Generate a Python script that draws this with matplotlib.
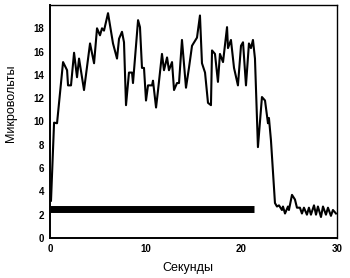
import matplotlib
matplotlib.use("Agg")
import matplotlib.pyplot as plt

plt.rcParams["font.family"] = ["Liberation Sans", "DejaVu Sans"]

# time (s) and signal (microvolts)
seconds = [
    0.1, 0.42, 0.73, 1.36, 1.78, 1.88, 2.19, 2.51, 2.82, 3.03, 3.55, 4.18,
    4.60, 4.91, 5.22, 5.43, 5.64, 6.06, 6.58, 7.00, 7.21, 7.52, 7.73, 7.94,
    8.25, 8.57, 8.67, 9.20, 9.40, 9.61, 9.82, 10.03, 10.24, 10.66, 10.76,
    11.08, 11.29, 11.70, 11.91, 12.23, 12.43, 12.75, 12.96, 13.27, 13.48,
    13.79, 14.21, 14.52, 14.84, 15.36, 15.67, 15.88, 16.20, 16.51, 16.82,
    16.93, 17.24, 17.55, 17.76, 18.08, 18.50, 18.60, 18.91, 19.23, 19.64,
    19.96, 20.17, 20.48, 20.79, 21.00, 21.21, 21.42, 21.73, 22.15, 22.47,
    22.78, 22.88, 23.09, 23.51, 23.72, 23.93, 24.24, 24.35, 24.56, 24.87,
    24.97, 25.29, 25.60, 25.81, 26.12, 26.33, 26.54, 26.85, 27.06, 27.27,
    27.59, 27.80, 28.00, 28.32, 28.53, 28.84, 29.05, 29.36, 29.57, 29.89,
]
microvolts = [
    3.2, 9.9, 9.85, 15.1, 14.4, 13.1, 13.1, 15.9, 13.8, 15.4, 12.7, 16.7,
    15.0, 18.0, 17.4, 18.0, 17.8, 19.3, 16.7, 15.4, 17.1, 17.7, 16.8, 11.4,
    14.2, 14.2, 13.3, 18.7, 18.1, 14.6, 14.6, 11.8, 13.1, 13.1, 13.5,
    11.2, 12.7, 15.8, 14.4, 15.5, 14.4, 15.1, 12.7, 13.3, 13.3,
    17.0, 12.9, 14.6, 16.5, 17.2, 19.1, 15.0, 14.2, 11.6, 11.4,
    16.1, 15.8, 13.4, 15.8, 15.1, 18.1, 16.3, 17.0, 14.6, 13.1,
    16.5, 16.8, 13.1, 16.7, 16.3, 17.0, 15.4, 7.8, 12.1, 11.8,
    9.85, 10.3, 8.4, 3.0, 2.7, 2.8, 2.4, 2.7, 2.1, 2.7,
    2.4, 3.7, 3.3, 2.6, 2.6, 2.1, 2.6, 2.0, 2.6, 2.0,
    2.8, 2.0, 2.7, 1.8, 2.7, 2.0, 2.6, 1.9, 2.4, 2.1,
]

# stimulus bar
bar_start, bar_end, bar_level = 0.0, 21.3, 2.5

fig = plt.figure(figsize=(3.5, 2.78), dpi=100)
ax = fig.add_axes((0.143, 0.144, 0.820, 0.838))

ax.plot(seconds, microvolts, color="black", linewidth=1.5)
ax.plot([bar_start, bar_end], [bar_level, bar_level], color="black",
        linewidth=5, solid_capstyle="butt")

ax.set_xlim(0, 30)
ax.set_ylim(0, 20)
ax.set_xticks([0, 10, 20, 30])
ax.set_yticks([0, 2, 4, 6, 8, 10, 12, 14, 16, 18])
ax.tick_params(length=0, pad=4, labelsize=7)
for lbl in ax.get_xticklabels() + ax.get_yticklabels():
    lbl.set_fontweight("bold")

for side, spine in ax.spines.items():
    spine.set_color("black")
    spine.set_linewidth(1.4 if side in ("left", "bottom") else 1.0)

ax.set_xlabel("Секунды", fontsize=9)
ax.set_ylabel("Микровольты", fontsize=9)
ax.xaxis.set_label_coords(0.48, -0.105)
ax.yaxis.set_label_coords(-0.115, 0.58)

fig.savefig("out.png", dpi=100, facecolor="white")
